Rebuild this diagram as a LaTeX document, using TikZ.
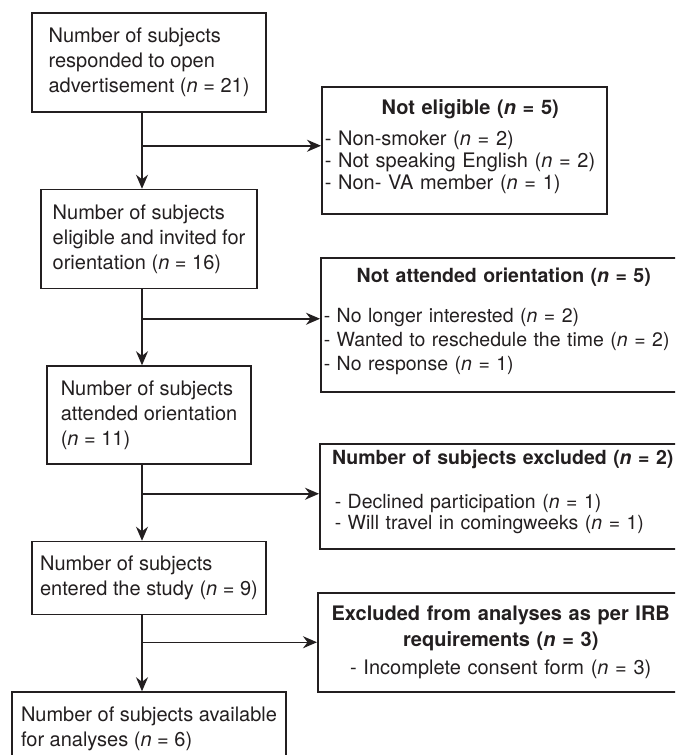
\documentclass[tikz,border=0pt]{standalone}
\usepackage{fontspec}
\setmainfont{TeX Gyre Heros}
\usetikzlibrary{arrows.meta, positioning}
\definecolor{linegray}{RGB}{35, 31, 32}

\begin{document}
\begin{tikzpicture}[
    x=1pt, y=-1pt,
    node distance=76pt,
    stage/.style={rectangle, draw=linegray, line width=1.5pt, align=left,
                  inner sep=0pt, text=linegray, font=\fontsize{20}{25}\selectfont},
    outbox/.style={rectangle, draw=linegray, line width=1.5pt, anchor=north west,
                   inner xsep=3pt, inner ysep=0pt, text=linegray,
                   font=\fontsize{20}{#1}\selectfont},
    flow/.style={-{Stealth[length=14pt, width=12pt]}, line width=1.5pt, draw=linegray}
]
    \useasboundingbox (0,0) rectangle (675,755);
    \clip (0,0) rectangle (675,755);
    \coordinate (spine) at (142,0);

    % main flow
    \node[stage, minimum width=234pt, minimum height=99pt] (responded) at (149,62.5)
        {Number of subjects\\responded to open\\advertisement (\textit{n} = 21)};
    \node[stage, minimum width=216pt, minimum height=99pt, below=of responded] (eligible)
        {Number of subjects\\eligible and invited for\\orientation (\textit{n} = 16)};
    \node[stage, minimum width=204pt, minimum height=98pt, below=of eligible] (attended)
        {Number of subjects\\attended orientation\\(\textit{n} = 11)};
    \node[stage, minimum width=234pt, minimum height=73pt, below=of attended] (entered)
        {Number of subjects\\entered the study (\textit{n} = 9)};
    \node[stage, minimum width=274pt, minimum height=73pt, below=of entered] (available)
        {Number of subjects available\\for analyses (\textit{n} = 6)};

    % drop-outs
    \node[outbox=22pt, text width=279pt, minimum width=285pt, minimum height=127pt] (noteligible) at (321,86)
        {{\centering\bfseries\hspace*{12pt}Not eligible (\textit{n} = 5)\par}\vspace{9.7pt}
         \raggedright
         - Non-smoker (\textit{n} = 2)\\
         - Not speaking English (\textit{n} = 2)\\
         - Non- VA member (\textit{n} = 1)\par\vspace*{7pt}};
    \node[outbox=24pt, text width=360pt, minimum width=366pt, minimum height=134pt,
          font=\fontsize{19.5}{24}\selectfont] (notattended) at (320,257)
        {{\centering\bfseries Not attended orientation (\textit{n} = 5)\par}\vspace{16pt}
         \raggedright
         - No longer interested (\textit{n} = 2)\\
         - Wanted to reschedule the time (\textit{n} = 2)\\
         - No response (\textit{n} = 1)\par\vspace*{6pt}};
    \node[outbox=21pt, text width=360pt, minimum width=366pt, minimum height=105pt,
          font=\fontsize{19.5}{21}\selectfont] (excluded) at (319,443)
        {{\centering\bfseries Number of subjects excluded (\textit{n} = 2)\par}\vspace{23pt}
         \raggedright
         \hspace*{12pt}- Declined participation (\textit{n} = 1)\\
         \hspace*{12pt}- Will travel in comingweeks (\textit{n} = 1)\par\vspace*{8pt}};
    \node[outbox=26pt, text width=360pt, minimum width=366pt, minimum height=99pt] (irb) at (317,592)
        {\centering
         {\bfseries Excluded from analyses as per IRB\\requirements (\textit{n} = 3)\par}\vspace{2pt}
         - Incomplete consent form (\textit{n} = 3)\par};

    % arrows down the spine
    \draw[flow] (responded.south -| spine) -- (eligible.north -| spine);
    \draw[flow] (eligible.south -| spine) -- (attended.north -| spine);
    \draw[flow] (attended.south -| spine) -- (entered.north -| spine);
    \draw[flow] (entered.south -| spine) -- (available.north -| spine);

    % arrows to the side boxes
    \path ([yshift=4.5pt]noteligible.west) coordinate (in1)
          ([yshift=6pt]notattended.west) coordinate (in2)
          ([yshift=2.5pt]excluded.west) coordinate (in3)
          (irb.west) coordinate (in4);
    \draw[flow] (in1 -| spine) -- (in1);
    \draw[flow] (in2 -| spine) -- (in2);
    \draw[flow] (in3 -| spine) -- (in3);
    \draw[flow] (in4 -| spine) -- (in4);
\end{tikzpicture}
\end{document}
